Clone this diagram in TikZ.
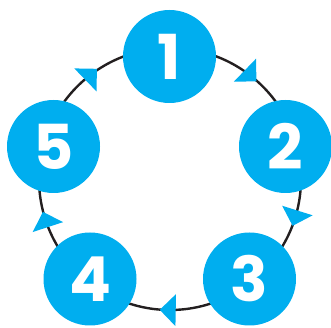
\documentclass[tikz,border=0pt]{standalone}
\usepackage{fontspec}
\setmainfont{Poppins}
\definecolor{stagecyan}{HTML}{00AEEF}
\definecolor{ringgray}{HTML}{231F20}

\begin{document}
\begin{tikzpicture}[x=1pt, y=1pt]
\tikzset{
  stage/.style={circle, fill=stagecyan, minimum size=93pt, inner sep=0pt,
    text=white, font=\fontsize{62}{62}\selectfont\bfseries},
  ring/.style={draw=ringgray, line width=2.4pt},
  tiphead/.style={fill=stagecyan}
}
\useasboundingbox (0,0) rectangle (331,328);

\coordinate (hub) at (170,149);
\draw[ring] (hub) circle[radius=131];

\foreach \a/\r in {52/-6, -17.4/0, -91/0, -162/0, 127/7}
  \fill[tiphead, shift={(hub)}, rotate=\a, shift={(131,0)}, rotate=\r]
    (0,-8) -- (-16,8) -- (16,8) -- cycle;

\node[stage] (s1) at (169.5,271.5) {1};
\node[stage] (s2) at (285.5,181.5) {2};
\node[stage] (s3) at (249.5,49) {3};
\node[stage] (s4) at (90,49) {4};
\node[stage] (s5) at (53.5,181.5) {5};
\end{tikzpicture}
\end{document}
